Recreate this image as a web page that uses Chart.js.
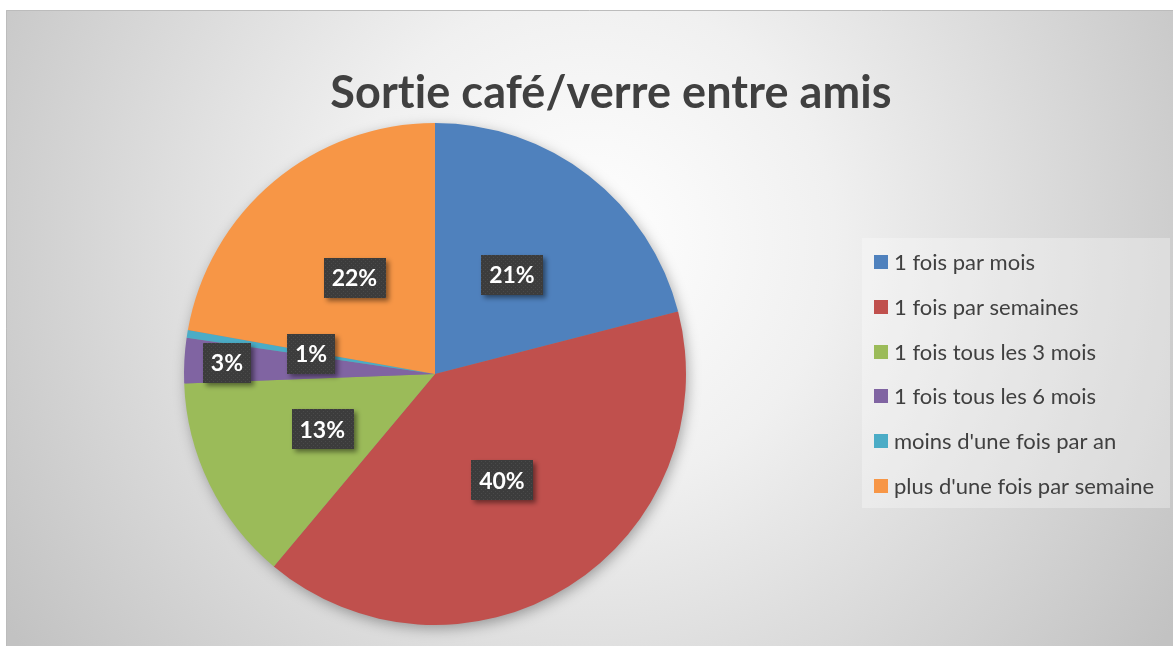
<!DOCTYPE html>
<html lang="fr">
<head>
<meta charset="utf-8">
<title>Sortie café/verre entre amis</title>
<script src="https://cdn.jsdelivr.net/npm/chart.js@4.4.0/dist/chart.umd.min.js"></script>
<style>
  html, body { margin: 0; padding: 0; background: #fff; }
  #wrap { width: 1173px; height: 646px; }
</style>
</head>
<body>
<div id="wrap"><canvas id="sortie-chart" width="1173" height="646"></canvas></div>
<script>
// données
const titre = "Sortie café/verre entre amis";
const categories = [
  "1 fois par mois",
  "1 fois par semaines",
  "1 fois tous les 3 mois",
  "1 fois tous les 6 mois",
  "moins d'une fois par an",
  "plus d'une fois par semaine"
];
const valeurs = [21.0, 40.1, 13.3, 2.9, 0.5, 22.2];
const etiquettes = ["21%", "40%", "13%", "3%", "1%", "22%"];
const couleurs = ["#4f81bd", "#c0504d", "#9bbb59", "#8064a2", "#4bacc6", "#f79646"];

// distance des étiquettes depuis le centre (fraction du rayon)
const posEtiquettes = [0.5, 0.5, 0.5, 0.83, 0.5, 0.5];

const fond = {
  id: "fond",
  beforeDraw(chart) {
    const ctx = chart.ctx;
    ctx.save();
    const g = ctx.createRadialGradient(590, 240, 0, 590, 240, 700);
    g.addColorStop(0, "#ffffff");
    g.addColorStop(0.35, "#f0f0f0");
    g.addColorStop(1, "#c2c2c2");
    ctx.fillStyle = g;
    ctx.fillRect(6, 10, 1167, 636);
    ctx.strokeStyle = "#bcbcbc";
    ctx.lineWidth = 1;
    ctx.beginPath();
    ctx.moveTo(6.5, 646);
    ctx.lineTo(6.5, 10.5);
    ctx.lineTo(1173, 10.5);
    ctx.stroke();
    ctx.restore();
  },
  beforeDatasetsDraw(chart) {
    // ombre douce sous le camembert
    const arc = chart.getDatasetMeta(0).data[0];
    if (!arc) return;
    const ctx = chart.ctx;
    ctx.save();
    ctx.shadowColor = "rgba(0,0,0,0.35)";
    ctx.shadowBlur = 14;
    ctx.shadowOffsetX = 2;
    ctx.shadowOffsetY = 4;
    ctx.fillStyle = "#888";
    ctx.beginPath();
    ctx.arc(arc.x, arc.y, arc.outerRadius - 1, 0, Math.PI * 2);
    ctx.fill();
    ctx.restore();
  }
};

function motifEtiquette(ctx) {
  const c = document.createElement("canvas");
  c.width = 4;
  c.height = 4;
  const p = c.getContext("2d");
  p.fillStyle = "#3c3c3c";
  p.fillRect(0, 0, 4, 4);
  p.fillStyle = "#4a4a4a";
  p.fillRect(1, 1, 1, 1);
  p.fillRect(3, 3, 1, 1);
  return ctx.createPattern(c, "repeat");
}

const etiquettesPlugin = {
  id: "etiquettes",
  afterDatasetsDraw(chart) {
    const ctx = chart.ctx;
    const meta = chart.getDatasetMeta(0);
    const motif = motifEtiquette(ctx);
    ctx.save();
    ctx.font = "bold 23px Lato";
    ctx.textAlign = "center";
    ctx.textBaseline = "middle";
    meta.data.forEach((arc, i) => {
      const a = (arc.startAngle + arc.endAngle) / 2;
      const r = arc.outerRadius * posEtiquettes[i];
      const x = arc.x + Math.cos(a) * r;
      const y = arc.y + Math.sin(a) * r;
      const w = ctx.measureText(etiquettes[i]).width + 16;
      const h = 40;
      ctx.save();
      ctx.shadowColor = "rgba(0,0,0,0.45)";
      ctx.shadowBlur = 5;
      ctx.shadowOffsetX = 3;
      ctx.shadowOffsetY = 3;
      ctx.fillStyle = motif;
      ctx.fillRect(Math.round(x - w / 2), Math.round(y - h / 2), Math.round(w), h);
      ctx.restore();
      ctx.fillStyle = "#ffffff";
      ctx.fillText(etiquettes[i], x, y + 1);
    });
    ctx.restore();
  },
  afterDraw(chart) {
    const ctx = chart.ctx;
    ctx.save();
    // titre (petit espacement pour éviter la ligature "ti")
    ctx.fillStyle = "#404040";
    ctx.font = "bold 45px Lato";
    ctx.letterSpacing = "0.1px";
    ctx.textAlign = "center";
    ctx.textBaseline = "alphabetic";
    ctx.fillText(titre, 611, 108);
    ctx.letterSpacing = "0px";

    // légende
    ctx.fillStyle = "rgba(255,255,255,0.3)";
    ctx.fillRect(862, 238, 308, 270);
    ctx.font = "22px Lato";
    ctx.textAlign = "left";
    ctx.textBaseline = "middle";
    chart.data.labels.forEach((lab, i) => {
      const y = 262 + i * 44.8;
      ctx.fillStyle = chart.data.datasets[0].backgroundColor[i];
      ctx.fillRect(874, Math.round(y - 7), 14, 14);
      ctx.fillStyle = "#404040";
      ctx.fillText(lab, 894, y + 1);
    });
    ctx.restore();
  }
};

const chart = new Chart(document.getElementById("sortie-chart"), {
  type: "pie",
  data: {
    labels: categories,
    datasets: [{
      data: valeurs,
      backgroundColor: couleurs,
      borderWidth: 0
    }]
  },
  options: {
    responsive: false,
    animation: false,
    layout: {
      padding: { left: 184, right: 487, top: 123, bottom: 21 }
    },
    plugins: {
      legend: { display: false },
      title: { display: false },
      tooltip: { enabled: false }
    }
  },
  plugins: [fond, etiquettesPlugin]
});
</script>
</body>
</html>
